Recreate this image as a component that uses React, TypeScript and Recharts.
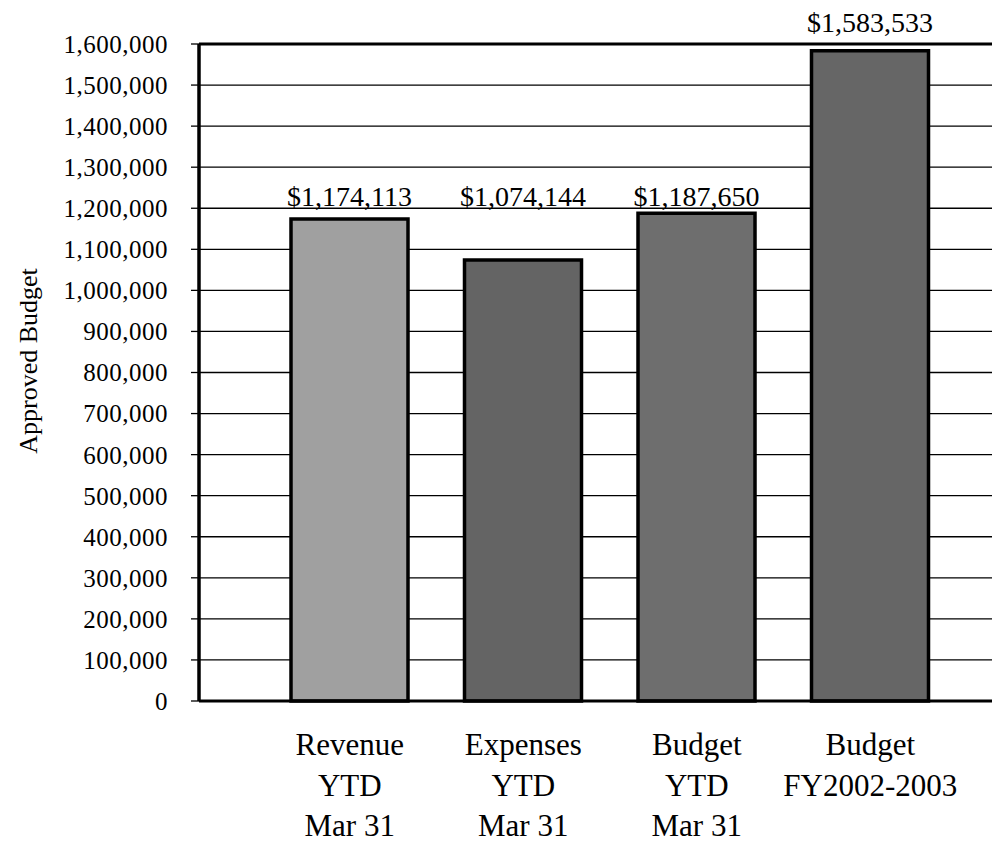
import React from 'react';
import { BarChart, Bar, XAxis, YAxis, CartesianGrid, LabelList, Cell, ReferenceLine } from 'recharts';

const categories = ['Revenue\nYTD\nMar 31', 'Expenses\nYTD\nMar 31', 'Budget\nYTD\nMar 31', 'Budget\nFY2002-2003'];
const values = [1174113, 1074144, 1187650, 1583533];
const barColors = ['#a0a0a0', '#646464', '#6e6e6e', '#666666'];
const yTicks = [0, 100000, 200000, 300000, 400000, 500000, 600000, 700000, 800000, 900000, 1000000, 1100000, 1200000, 1300000, 1400000, 1500000, 1600000];
const yAxisTitle = 'Approved Budget';
const yMax = 1600000;
const labelLineValue = 1200000;

const data = categories.map((c, i) => ({ name: c, value: values[i] }));

const FONT = '"Liberation Serif", "Times New Roman", serif';

const fmt = (v: number) => v.toLocaleString('en-US');

const XTick = (props: any) => {
  const { x, y, payload } = props;
  const lines = String(payload.value).split('\n');
  return (
    <g>
      {lines.map((l: string, i: number) => (
        <text key={i} x={x} y={y + 54 + i * 40.5} textAnchor="middle" fontFamily={FONT} fontSize={31} fill="#000">
          {l}
        </text>
      ))}
    </g>
  );
};

const YTitle = () => (
  <text x={20} y={353} transform="rotate(-90 20 353)" textAnchor="middle" dominantBaseline="central" fontFamily={FONT} fontSize={26} fill="#000">
    {yAxisTitle}
  </text>
);

// Value labels: placed on the 1,200,000 gridline when the bar is below it, otherwise above the plot top.
const ValueLabel = (props: any) => {
  const { x, y, width, height, value } = props;
  const v = Number(value);
  const pxPerUnit = height / v;
  const bottom = y + height;
  const yLine = bottom - labelLineValue * pxPerUnit;
  const yTop = bottom - yMax * pxPerUnit;
  const baseline = v <= labelLineValue ? yLine - 2 : yTop - 12;
  return (
    <text x={x + width / 2} y={baseline} textAnchor="middle" fontFamily={FONT} fontSize={28} fill="#000">
      {'$' + fmt(v)}
    </text>
  );
};

export default function App() {
  return (
    <>
      <style>{`html,body{overflow:hidden}`}</style>
      <BarChart width={992} height={834} data={data} margin={{ top: 36, right: 0, bottom: 0, left: 0 }}>
        <CartesianGrid horizontal vertical={false} stroke="#000" strokeWidth={1.3} strokeOpacity={1} />
        <XAxis
          dataKey="name"
          interval={0}
          padding={{ left: 64, right: 43 }}
          height={141}
          tickSize={0}
          tickMargin={0}
          tickLine={false}
          axisLine={{ stroke: '#000', strokeWidth: 3 }}
          tick={<XTick />}
        />
        <YAxis
          width={191}
          domain={[0, yMax]}
          ticks={yTicks}
          interval={0}
          tickFormatter={fmt}
          tickSize={8}
          tickMargin={23}
          tickLine={{ stroke: '#000', strokeWidth: 1.3 }}
          axisLine={{ stroke: '#000', strokeWidth: 3.5 }}
          tick={{ fontFamily: FONT, fontSize: 25, fill: '#000', letterSpacing: 0.5 }}
          label={<YTitle />}
        />
        <ReferenceLine y={yMax} stroke="#000" strokeWidth={3} />
        <Bar dataKey="value" barSize={117} stroke="#000" strokeWidth={3.5} isAnimationActive={false}>
          {data.map((d, i) => (
            <Cell key={i} fill={barColors[i]} />
          ))}
          <LabelList dataKey="value" content={<ValueLabel />} />
        </Bar>
      </BarChart>
    </>
  );
}
